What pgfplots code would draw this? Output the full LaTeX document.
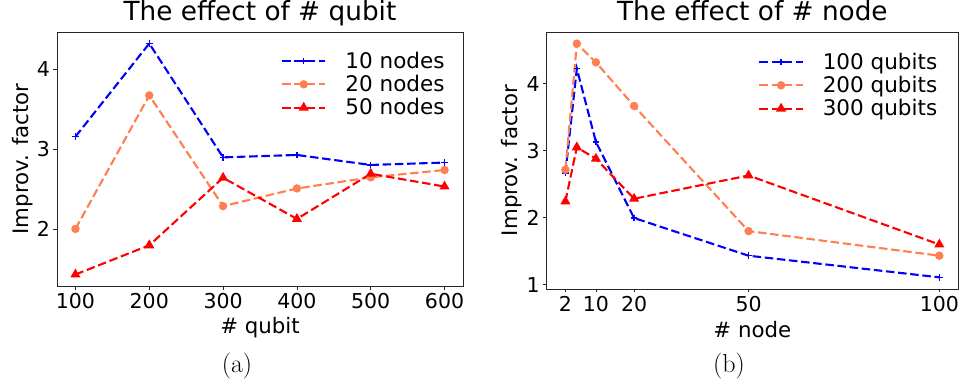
\documentclass[border=0pt]{standalone}
\usepackage{fontspec}
\usepackage{pgfplots}
\pgfplotsset{compat=1.18}
\newfontfamily\dv{DejaVu Sans}
\definecolor{coral}{RGB}{255,127,80}
\begin{document}
\begin{tikzpicture}
\useasboundingbox (0pt,0pt) rectangle (961pt,383pt);
\pgfplotsset{
  myax/.style={
    scale only axis,
    axis line style={line width=0.8pt, black!85},
    tick align=outside,
    major tick length=3.5pt,
    tick style={black!85, line width=0.8pt},
    xtick pos=left, ytick pos=left,
    minor tick num=0,
    every tick label/.append style={font=\dv\fontsize{20.5}{24}\selectfont},
    /pgf/number format/assume math mode=true,
    label style={font=\dv\fontsize{21.3}{25}\selectfont},
    title style={font=\dv\fontsize{26.3}{30}\selectfont, anchor=base},
    legend cell align=left,
    legend style={draw=none, fill=none, inner sep=0pt, outer sep=0pt,
      font=\dv\fontsize{21.5}{23.3}\selectfont,
      row sep=3.3pt, column sep=19pt,
      nodes={inner sep=0pt, outer sep=0pt, text height=17.3pt, text depth=2.7pt}},
    legend image code/.code={
      \draw[mark repeat=2,mark phase=2,##1] plot coordinates {(0pt,0pt) (21.7pt,0pt) (43.4pt,0pt)};
    },
    every axis plot/.append style={line width=2.1pt, dash pattern=on 8.5pt off 3.7pt},
  },
  sA/.style={blue, mark=+, mark size=3.3pt, mark options={solid, line width=1.2pt}},
  sB/.style={coral, mark=*, mark size=3.1pt, mark options={solid}},
  sC/.style={red, mark=triangle*, mark size=3.8pt, mark options={solid}},
}
\begin{axis}[myax,
  at={(57pt,97pt)}, anchor=south west,
  width=406pt, height=254pt,
  xmin=75, xmax=625, ymin=1.286, ymax=4.463,
  xtick={100,200,300,400,500,600},
  ytick={2,3,4},
  title={The effect of \# qubit},
  title style={at={([yshift=5.5pt]axis description cs:0.5,1)}},
  xlabel={\# qubit},
  xlabel style={at={([yshift=-47.3pt]axis description cs:0.5,0)}, anchor=base},
  ylabel={Improv. factor},
  ylabel style={at={([xshift=-28.2pt]axis description cs:0,0.5)}, anchor=base},
  legend style={at={(axis description cs:0.5517,0.925)}, anchor=north west},
]
\addplot[sA] coordinates {(100,3.154) (200,4.319) (300,2.895) (400,2.925) (500,2.80) (600,2.83)};
\addlegendentry{10 nodes}
\addplot[sB] coordinates {(100,2.00) (200,3.67) (300,2.285) (400,2.506) (500,2.645) (600,2.737)};
\addlegendentry{20 nodes}
\addplot[sC] coordinates {(100,1.43) (200,1.795) (300,2.64) (400,2.125) (500,2.69) (600,2.53)};
\addlegendentry{50 nodes}
\end{axis}
\begin{axis}[myax,
  at={(546.7pt,94pt)}, anchor=south west,
  width=411.3pt, height=257pt,
  xmin=-2.9, xmax=104.9, ymin=0.936, ymax=4.771,
  xtick={2,10,20,50,100},
  ytick={1,2,3,4},
  title={The effect of \# node},
  title style={at={([yshift=5.5pt]axis description cs:0.5,1)}},
  xlabel={\# node},
  xlabel style={at={([yshift=-48.5pt]axis description cs:0.5,0)}, anchor=base},
  ylabel={Improv. factor},
  ylabel style={at={([xshift=-29.5pt]axis description cs:0,0.5)}, anchor=base},
  legend style={at={(axis description cs:0.5145,0.922)}, anchor=north west},
]
\addplot[sA] coordinates {(2,2.667) (5,4.224) (10,3.13) (20,1.995) (50,1.433) (100,1.11)};
\addlegendentry{100 qubits}
\addplot[sB] coordinates {(2,2.716) (5,4.597) (10,4.318) (20,3.667) (50,1.80) (100,1.433)};
\addlegendentry{200 qubits}
\addplot[sC] coordinates {(2,2.243) (5,3.05) (10,2.88) (20,2.283) (50,2.63) (100,1.60)};
\addlegendentry{300 qubits}
\end{axis}
\node[font=\rmfamily\fontsize{26}{30}\selectfont, anchor=base] at (237pt,10.2pt) {(a)};
\node[font=\rmfamily\fontsize{26}{30}\selectfont, anchor=base] at (729pt,10.2pt) {(b)};
\end{tikzpicture}
\end{document}
